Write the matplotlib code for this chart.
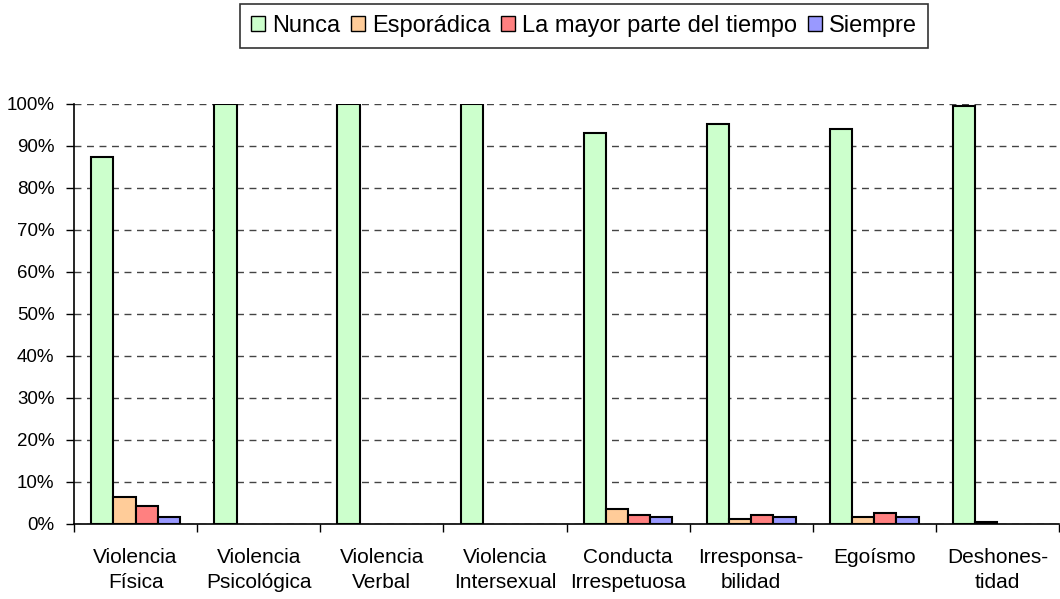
import numpy as np
import matplotlib
matplotlib.use("Agg")
import matplotlib.pyplot as plt
import matplotlib.ticker as plticker

plt.rcParams["font.family"] = ["Liberation Sans", "DejaVu Sans"]

categories = [
    "Violencia\nFísica",
    "Violencia\nPsicológica",
    "Violencia\nVerbal",
    "Violencia\nIntersexual",
    "Conducta\nIrrespetuosa",
    "Irresponsa-\nbilidad",
    "Egoísmo",
    "Deshones-\ntidad",
]
series_names = ["Nunca", "Esporádica", "La mayor parte del tiempo", "Siempre"]
nunca = [87.4, 100, 100, 100, 93.1, 95.2, 94.1, 99.5]
esporadica = [6.5, 0, 0, 0, 3.5, 1.3, 1.7, 0.5]
mayor_parte = [4.4, 0, 0, 0, 2.2, 2.2, 2.7, 0]
siempre = [1.6, 0, 0, 0, 1.7, 1.7, 1.7, 0]

COLORS = ["#CCFFCC", "#FFCC99", "#FF8080", "#9999FF"]

dpi = 100
fig = plt.figure(figsize=(1060 / dpi, 599 / dpi), dpi=dpi)
ax = fig.add_axes([74 / 1060, 75 / 599, 985 / 1060, 420 / 599])

x = np.arange(len(categories))
bar_w = 0.18
values = [nunca, esporadica, mayor_parte, siempre]
for i, (name, vals) in enumerate(zip(series_names, values)):
    offs = (i - 1.5) * bar_w
    # zero values draw nothing in the original
    heights = np.array([v if v > 0 else np.nan for v in vals])
    ax.bar(x + offs, heights, width=bar_w, color=COLORS[i], edgecolor="black",
           linewidth=1.5, label=name, zorder=3)

ax.set_xlim(-0.5, len(categories) - 0.5)
ax.set_ylim(0, 100)
ax.yaxis.set_major_locator(plticker.MultipleLocator(10))
ax.yaxis.set_major_formatter(plticker.FuncFormatter(lambda v, p: f"{int(v)}%"))
ax.grid(axis="y", linestyle=(0, (5, 4)), color="#444444", linewidth=1, zorder=0)

ax.set_xticks(x)
ax.set_xticklabels(categories, fontsize=15, linespacing=1.45)
ax.set_xticks(np.arange(len(categories) + 1) - 0.5, minor=True)
ax.tick_params(axis="x", which="major", length=0, pad=17)
ax.tick_params(axis="x", which="minor", length=6, width=1)
ax.tick_params(axis="y", length=6, width=1, labelsize=13.5, pad=8)

for side in ["top", "right"]:
    ax.spines[side].set_visible(False)
for side in ["left", "bottom"]:
    ax.spines[side].set_linewidth(1.2)

leg = fig.legend(loc="center", bbox_to_anchor=(584 / 1060, 1 - 26 / 599), ncol=4,
                 fontsize=17, frameon=True, fancybox=False, edgecolor="black",
                 handlelength=0.6, handleheight=0.6, handletextpad=0.3,
                 columnspacing=0.45, borderpad=0.45)
leg.get_frame().set_linewidth(1.2)
for h in leg.legend_handles:
    h.set_linewidth(1)

fig.savefig("out.png", dpi=dpi)
